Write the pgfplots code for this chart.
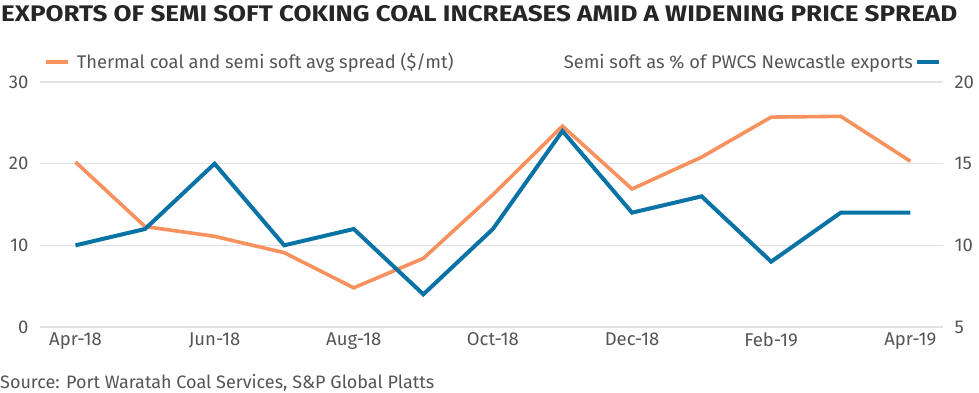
\documentclass[border=0pt]{standalone}
\usepackage{pgfplots}
\pgfplotsset{compat=1.18}
\usepackage{fontspec}
\setmainfont{Fira Sans}
\definecolor{orng}{HTML}{F7915E}
\definecolor{blu}{HTML}{0A73A6}
\definecolor{txt}{HTML}{555555}
\definecolor{grd}{HTML}{E2E2E2}
\begin{document}
\begin{tikzpicture}[x=1pt,y=1pt]
\path (0,0) rectangle (979,393);
\pgfplotsset{
  common/.style={
    at={(40pt,66pt)}, anchor=south west,
    scale only axis, width=903pt, height=245pt,
    xmin=-0.51, xmax=12.47,
    axis line style={draw=none}, tick style={draw=none},
    major tick length=0pt,
    tick label style={font=\fontsize{18.5}{21}\selectfont, text=txt},
    /pgf/number format/assume math mode=true,
    legend style={draw=none, fill=none, inner sep=0pt, outer sep=0pt,
      font=\fontsize{18.3}{21}\selectfont, text=txt},
    legend image code/.code={\draw[#1, line width=4pt] (0pt,0pt) -- (22pt,0pt);},
  }
}
\begin{axis}[common,
  ymin=0, ymax=30, ytick={0,10,20,30},
  ymajorgrids, grid style={grd, line width=1.3pt},
  yticklabel style={xshift=-8pt},
  xtick={0,2,4,6,8,10,12},
  xticklabels={Apr-18,Jun-18,Aug-18,Oct-18,Dec-18,Feb-19,Apr-19},
  xticklabel style={yshift=-2pt},
  legend style={at={(0.0044,1.082)}, anchor=west,
    /tikz/every odd column/.append style={column sep=5pt}},
]
\addplot[orng, line width=3.6pt] coordinates {
 (0,20.2) (1,12.3) (2,11.1) (3,9.1) (4,4.8) (5,8.4) (6,16.2)
 (7,24.6) (8,16.9) (9,20.8) (10,25.7) (11,25.8) (12,20.3)};
\addlegendentry{Thermal coal and semi soft avg spread (\$/mt)}
\end{axis}
\begin{axis}[common,
  axis y line*=right, axis x line=none,
  ymin=5, ymax=20, ytick={5,10,15,20},
  yticklabel style={xshift=8pt},
  legend style={at={(0.9978,1.082)}, anchor=east},
  legend plot pos=right,
]
\addplot[blu, line width=4pt] coordinates {
 (0,10) (1,11) (2,15) (3,10) (4,11) (5,7) (6,11)
 (7,17) (8,12) (9,13) (10,9) (11,12) (12,12)};
\addlegendentry{Semi soft as \% of PWCS Newcastle exports}
\end{axis}
\node[anchor=west, inner sep=0pt, text=black!85] at (1,379) {\resizebox{956pt}{16pt}{\bfseries EXPORTS OF SEMI SOFT COKING COAL INCREASES AMID A WIDENING PRICE SPREAD}};
\node[anchor=west, inner sep=0pt, text=txt, font=\fontsize{18}{21}\selectfont] at (0,10) {Source: Port Waratah Coal Services, S\&P Global Platts};
\end{tikzpicture}
\end{document}
